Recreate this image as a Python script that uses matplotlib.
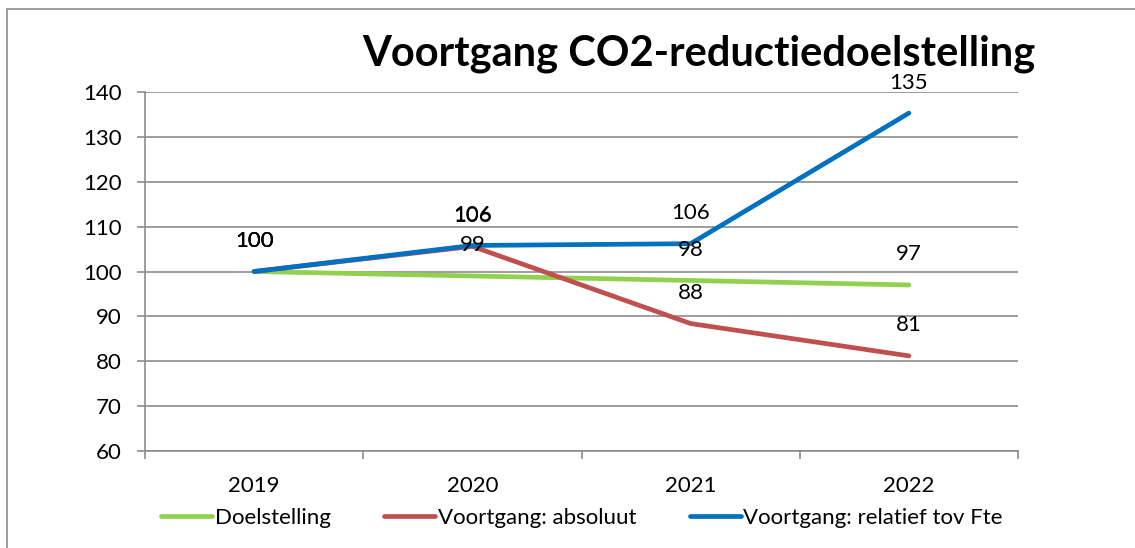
import matplotlib
matplotlib.use("Agg")
import matplotlib.pyplot as plt
from matplotlib.patches import Rectangle
from matplotlib.ticker import FixedLocator

plt.rcParams['font.family'] = ['Lato', 'DejaVu Sans']

years = ["2019", "2020", "2021", "2022"]
doelstelling = [100, 99, 98, 97]
absoluut = [100, 105.6, 88.4, 81.2]
relatief = [100, 105.8, 106.2, 135.3]
series_names = ["Doelstelling", "Voortgang: absoluut", "Voortgang: relatief tov Fte"]
colors = ["#92D050", "#C0504D", "#0070C0"]
yticks = [60, 70, 80, 90, 100, 110, 120, 130, 140]

W, H = 1135, 548
fig = plt.figure(figsize=(W / 100, H / 100), dpi=100)
ax = fig.add_axes([145 / W, 1 - 451 / H, (1018 - 145) / W, (451 - 92) / H])

# outer chart frame
fig.patches.append(Rectangle((7 / W, -0.05), 1.2, 1 - 9 / H + 0.05, transform=fig.transFigure,
                             fill=False, edgecolor="#8c8c8c", linewidth=1.2))

x = list(range(len(years)))
for vals, name, c in zip([doelstelling, absoluut, relatief], series_names, colors):
    ax.plot(x, vals, color=c, linewidth=3.4, label=name, solid_capstyle="round", zorder=3)
    for xi, v in zip(x, vals):
        ax.annotate(f"{round(v)}", (xi, v), xytext=(0, 22), textcoords="offset points",
                    ha="center", va="center", fontsize=16, color="black", zorder=4)

ax.set_xlim(-0.5, len(years) - 0.5)
ax.set_ylim(60, 140)
ax.set_yticks(yticks)
ax.set_yticklabels([str(t) for t in yticks])
ax.yaxis.grid(True, color="#8c8c8c", linewidth=1.2)
ax.set_axisbelow(True)

ax.set_xticks(x)
ax.set_xticklabels(years)
ax.xaxis.set_minor_locator(FixedLocator([i - 0.5 for i in range(len(years) + 1)]))
ax.tick_params(axis="x", which="major", length=0, pad=18, labelsize=16)
ax.tick_params(axis="x", which="minor", length=6, width=1.2, color="#8c8c8c", direction="out")
ax.tick_params(axis="y", length=6, width=1.2, color="#8c8c8c", pad=11, labelsize=16)

for s in ["top", "right"]:
    ax.spines[s].set_visible(False)
for s in ["left", "bottom"]:
    ax.spines[s].set_color("#8c8c8c")
    ax.spines[s].set_linewidth(1.2)

fig.text(699 / W, 1 - 54 / H, "Voortgang CO2-reductiedoelstelling", ha="center", va="center",
         fontsize=30, fontweight="bold")

fig.legend(loc="center", bbox_to_anchor=(582 / W, 1 - 518 / H), ncol=3, frameon=False,
           fontsize=16, handlelength=2.3, handletextpad=0.12, columnspacing=2.4)

fig.savefig("out.png", dpi=100)
